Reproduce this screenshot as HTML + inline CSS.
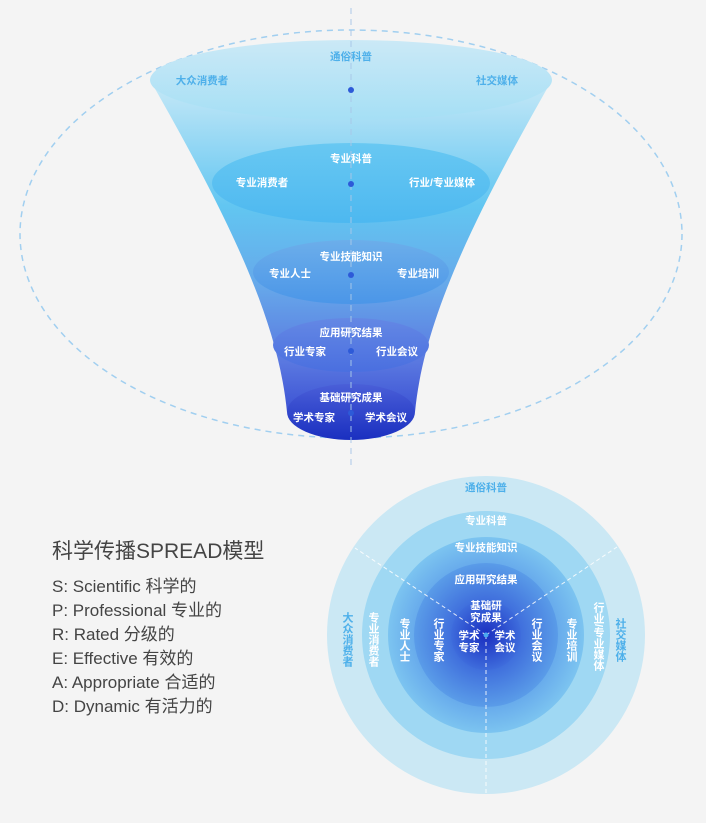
<!DOCTYPE html>
<html><head><meta charset="utf-8"><style>
html,body{margin:0;padding:0;background:#f4f4f4;}
svg{display:block;font-family:"Liberation Sans","Noto Sans CJK SC",sans-serif;}
</style></head><body>
<svg width="706" height="823" viewBox="0 0 706 823" xmlns="http://www.w3.org/2000/svg">
<defs>
<linearGradient id="fun" x1="0" y1="0" x2="0" y2="1">
<stop offset="0" stop-color="#c8e9f7"/>
<stop offset="0.38" stop-color="#62c6f1"/>
<stop offset="0.62" stop-color="#66a8ea"/>
<stop offset="0.85" stop-color="#5a78e0"/>
<stop offset="1" stop-color="#3c52d4"/>
</linearGradient>
<linearGradient id="e1" x1="0" y1="0" x2="0" y2="1"><stop offset="0" stop-color="#cbe9f6"/><stop offset="1" stop-color="#a5dff5"/></linearGradient>
<linearGradient id="e2" x1="0" y1="0" x2="0" y2="1"><stop offset="0" stop-color="#68c8f2"/><stop offset="1" stop-color="#4db8f0"/></linearGradient>
<linearGradient id="e3" x1="0" y1="0" x2="0" y2="1"><stop offset="0" stop-color="#6caeea"/><stop offset="1" stop-color="#4b96e8"/></linearGradient>
<linearGradient id="e4" x1="0" y1="0" x2="0" y2="1"><stop offset="0" stop-color="#6488e4"/><stop offset="1" stop-color="#4a6fe0"/></linearGradient>
<linearGradient id="e5" x1="0" y1="0" x2="0" y2="1"><stop offset="0" stop-color="#4a5fd8"/><stop offset="1" stop-color="#1a2fc0"/></linearGradient>
<radialGradient id="r5"><stop offset="0" stop-color="#1a2ec0"/><stop offset="1" stop-color="#3e6cdc"/></radialGradient>
<radialGradient id="r4"><stop offset="0.45" stop-color="#3e6cdc"/><stop offset="1" stop-color="#5a9ce8"/></radialGradient>
<radialGradient id="r3"><stop offset="0.6" stop-color="#5e9fea"/><stop offset="1" stop-color="#7cc4f0"/></radialGradient>
</defs>

<ellipse cx="351" cy="234" rx="331" ry="204" fill="none" stroke="#8cc6ef" stroke-width="1.5" stroke-dasharray="6 5" opacity="0.8"/>
<path d="M150,80 C230,220 278,320 287,412 L415,412 C424,320 472,220 552,80 Z" fill="url(#fun)"/>
<ellipse cx="351" cy="80" rx="201" ry="40" fill="url(#e1)"/>
<ellipse cx="351" cy="183" rx="139" ry="40" fill="url(#e2)"/>
<ellipse cx="351" cy="272" rx="98" ry="32" fill="url(#e3)"/>
<ellipse cx="351" cy="345" rx="78" ry="27" fill="url(#e4)"/>
<ellipse cx="351" cy="412" rx="64" ry="28" fill="url(#e5)"/>
<line x1="351" y1="8" x2="351" y2="466" stroke="#a8c8e8" stroke-width="1.2" stroke-dasharray="6 5" opacity="0.8"/>
<g fill="#2d5ad8"><circle cx="351" cy="90" r="3"/><circle cx="351" cy="184" r="3"/><circle cx="351" cy="275" r="3"/><circle cx="351" cy="351" r="3"/><circle cx="351" cy="413" r="3"/></g>

<g font-size="10.5" font-weight="bold" text-anchor="middle">
<g fill="#4eb0ea"><text x="351" y="60">通俗科普</text><text x="202" y="84">大众消费者</text><text x="497" y="84">社交媒体</text></g>
<g fill="#fff">
<text x="351" y="162">专业科普</text><text x="262" y="186">专业消费者</text><text x="442" y="186">行业/专业媒体</text>
<text x="351" y="260">专业技能知识</text><text x="290" y="277">专业人士</text><text x="418" y="277">专业培训</text>
<text x="351" y="336">应用研究结果</text><text x="305" y="355">行业专家</text><text x="397" y="355">行业会议</text>
<text x="351" y="401">基础研究成果</text><text x="314" y="421">学术专家</text><text x="386" y="421">学术会议</text>
</g></g>

<g fill="#444">
<text x="52" y="558" font-size="21">科学传播SPREAD模型</text>
<g font-size="17">
<text x="52" y="592">S: Scientific 科学的</text>
<text x="52" y="616">P: Professional 专业的</text>
<text x="52" y="640">R: Rated 分级的</text>
<text x="52" y="664">E: Effective 有效的</text>
<text x="52" y="688">A: Appropriate 合适的</text>
<text x="52" y="712">D: Dynamic 有活力的</text>
</g></g>

<circle cx="486" cy="635" r="159" fill="#cbe8f4"/>
<circle cx="486" cy="635" r="124" fill="#9fd8f3"/>
<circle cx="486" cy="635" r="98" fill="url(#r3)"/>
<circle cx="486" cy="635" r="72" fill="url(#r4)"/>
<circle cx="486" cy="635" r="35" fill="url(#r5)"/>
<g stroke="#fff" stroke-width="1" stroke-dasharray="4 3" opacity="0.85">
<line x1="486" y1="635" x2="355" y2="548"/><line x1="486" y1="635" x2="617" y2="547"/><line x1="486" y1="635" x2="486" y2="795"/>
</g>
<circle cx="486" cy="635" r="2.5" fill="#4aa8f0"/>
<g font-size="10.5" font-weight="bold" text-anchor="middle">
<text x="486" y="491" fill="#4eb0ea">通俗科普</text>
<g fill="#fff">
<text x="486" y="524">专业科普</text><text x="486" y="551">专业技能知识</text><text x="486" y="583">应用研究结果</text>
<text x="486" y="609">基础研</text><text x="486" y="621">究成果</text>
<text x="469" y="639">学术</text><text x="469" y="651">专家</text><text x="505" y="639">学术</text><text x="505" y="651">会议</text>
</g></g>
<g font-size="11" font-weight="bold" style="writing-mode:vertical-rl" text-anchor="start">
<text x="347" y="612" fill="#4eb0ea">大众消费者</text>
<text x="620" y="618" fill="#4eb0ea">社交媒体</text>
<g fill="#fff">
<text x="373" y="612">专业消费者</text>
<text x="404" y="618">专业人士</text>
<text x="438" y="618">行业专家</text>
<text x="536" y="618">行业会议</text>
<text x="571" y="618">专业培训</text>
<text x="598" y="602">行业/专业媒体</text>
</g></g>
</svg>
</body></html>
